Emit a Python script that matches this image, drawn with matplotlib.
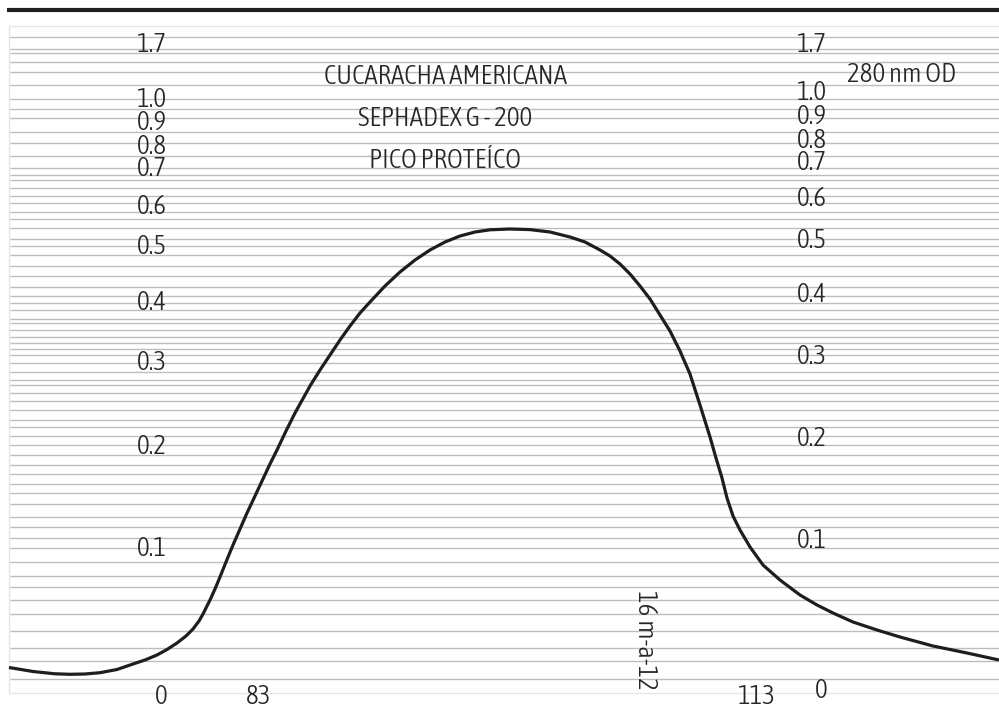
import matplotlib
matplotlib.use("Agg")
import matplotlib.pyplot as plt
from matplotlib import font_manager

# chart paper, positions measured in paper rows (0 = top edge, 721 = bottom edge)
grid_rows = [37.3, 48.7, 53, 62.3, 72, 85.3, 99.3, 109.3, 118, 131.7, 143.3, 156,
             168.3, 175.3, 180.3, 188.3, 196, 203.3, 212.3, 219.3, 228.3, 239.3,
             246.3, 255.3, 265.7, 276.3, 287.3, 296.3, 303.3, 310.3, 319.3, 323.3,
             330.3, 337.3, 342.5, 349.3, 355.3, 363.3, 371.7, 379.7, 385.3, 393.3,
             401.3, 410.3, 420.3, 426.7, 435.7, 445.3, 455.3, 465.3, 474.3, 484.3,
             493.3, 504.3, 517.3, 526.5, 538.3, 547.5, 562.3, 575.5, 587.3, 600.3,
             614.3, 631.3, 648.2, 661.3, 679]

# recorder trace
trace_x = [9, 33, 55, 70, 85, 100, 117, 133, 145, 157, 167, 177, 186, 193, 199, 203,
           207, 210, 215, 220, 226, 233, 240, 247, 255, 262, 270, 277, 286, 295,
           310, 320, 330, 340, 350, 360, 370, 385, 400, 415, 430, 445, 460, 475,
           490, 510, 530, 550, 570, 585, 600, 610, 620, 630, 640, 650, 660, 670,
           680, 690, 700, 710, 716, 722, 727, 733, 740, 750, 763, 780, 800, 817,
           833, 853, 877, 900, 933, 967, 999]
trace_y = [667.5, 671.5, 673.8, 674.3, 674, 672.7, 669.5, 664, 660, 655, 649.5, 643,
           636, 629, 621, 614, 606, 600, 589, 577, 562, 545, 529, 513, 496, 481,
           464, 450, 431, 413, 386, 370, 355, 340, 326, 313, 302, 286, 272, 260,
           250, 242, 236, 232, 229.8, 229, 229.6, 232, 237, 242, 250, 256, 264,
           274, 286, 299, 315, 331, 351, 374, 405, 437, 458, 478, 498, 516, 530,
           547, 565, 580, 595, 605, 613, 622, 630, 637, 646, 653, 660]

# absorbance scale labels (value, row) for the left and right columns
left_scale = ["1.7", "1.0", "0.9", "0.8", "0.7", "0.6", "0.5", "0.4", "0.3", "0.2", "0.1"]
left_rows = [44, 99.5, 123, 146, 169, 206, 247, 302, 362, 447, 549]
right_scale = ["1.7", "1.0", "0.9", "0.8", "0.7", "0.6", "0.5", "0.4", "0.3", "0.2", "0.1"]
right_rows = [44, 93, 117, 140, 163, 199, 240, 294, 356, 439, 541]

titles = ["CUCARACHA AMERICANA", "SEPHADEX G - 200", "PICO PROTEÍCO"]
title_rows = [76, 118, 160]

bottom_labels = ["0", "83", "113", "0"]
bottom_cols = [161, 259, 757, 821]
bottom_rows = [697, 697, 697, 691]

# pick a narrow face if one is installed, otherwise a light Roboto
narrow = [f for f in font_manager.fontManager.ttflist
          if (f.stretch in ("condensed", "semi-condensed", "extra-condensed")
              or "Narrow" in f.name or "Condensed" in f.name)
          and f.style == "normal"]
narrow.sort(key=lambda f: (abs(int(f.weight) - 300) if str(f.weight).isdigit() else 100))
if narrow:
    label_font = dict(fontproperties=font_manager.FontProperties(fname=narrow[0].fname, size=19.5))
else:
    label_font = dict(family=["Roboto", "DejaVu Sans"], fontweight="light", fontsize=16)

ink = "#262626"
fig = plt.figure(figsize=(9.99, 7.21), dpi=100)
ax = fig.add_axes([0, 0, 1, 1])
ax.set_xlim(0, 999)
ax.set_ylim(721, 0)
ax.axis("off")

# frame and heavy top rule
ax.hlines([26, 692.5], 9.3, 999, color="#e6e6e6", lw=1.0)
ax.vlines(9.3, 26, 692.5, color="#e6e6e6", lw=1.0)
ax.hlines(10, 7, 999, color="#231f20", lw=3.0)

ax.hlines(grid_rows, 10, 999, color="#bdbdbd", lw=1.0, zorder=1)

ax.plot(trace_x, trace_y, color="#1e1e1e", lw=2.3, solid_joinstyle="round",
        solid_capstyle="butt", zorder=3)

for s, r in zip(left_scale, left_rows):
    ax.text(152, r, s, ha="center", va="center", color=ink, zorder=4, **label_font)
for s, r in zip(right_scale, right_rows):
    ax.text(812, r, s, ha="center", va="center", color=ink, zorder=4, **label_font)
for s, r in zip(titles, title_rows):
    ax.text(445, r, s, ha="center", va="center", color=ink, zorder=4, **label_font)
for s, c, r in zip(bottom_labels, bottom_cols, bottom_rows):
    ax.text(c, r, s, ha="center", va="center", color=ink, zorder=4, **label_font)

ax.text(902, 74, "280 nm OD", ha="center", va="center", color=ink, **label_font)
ax.text(646, 640, "16 m-a-12", ha="center", va="center", rotation=-90,
        color=ink, **label_font)

fig.savefig("out.png", dpi=100, facecolor="white")
